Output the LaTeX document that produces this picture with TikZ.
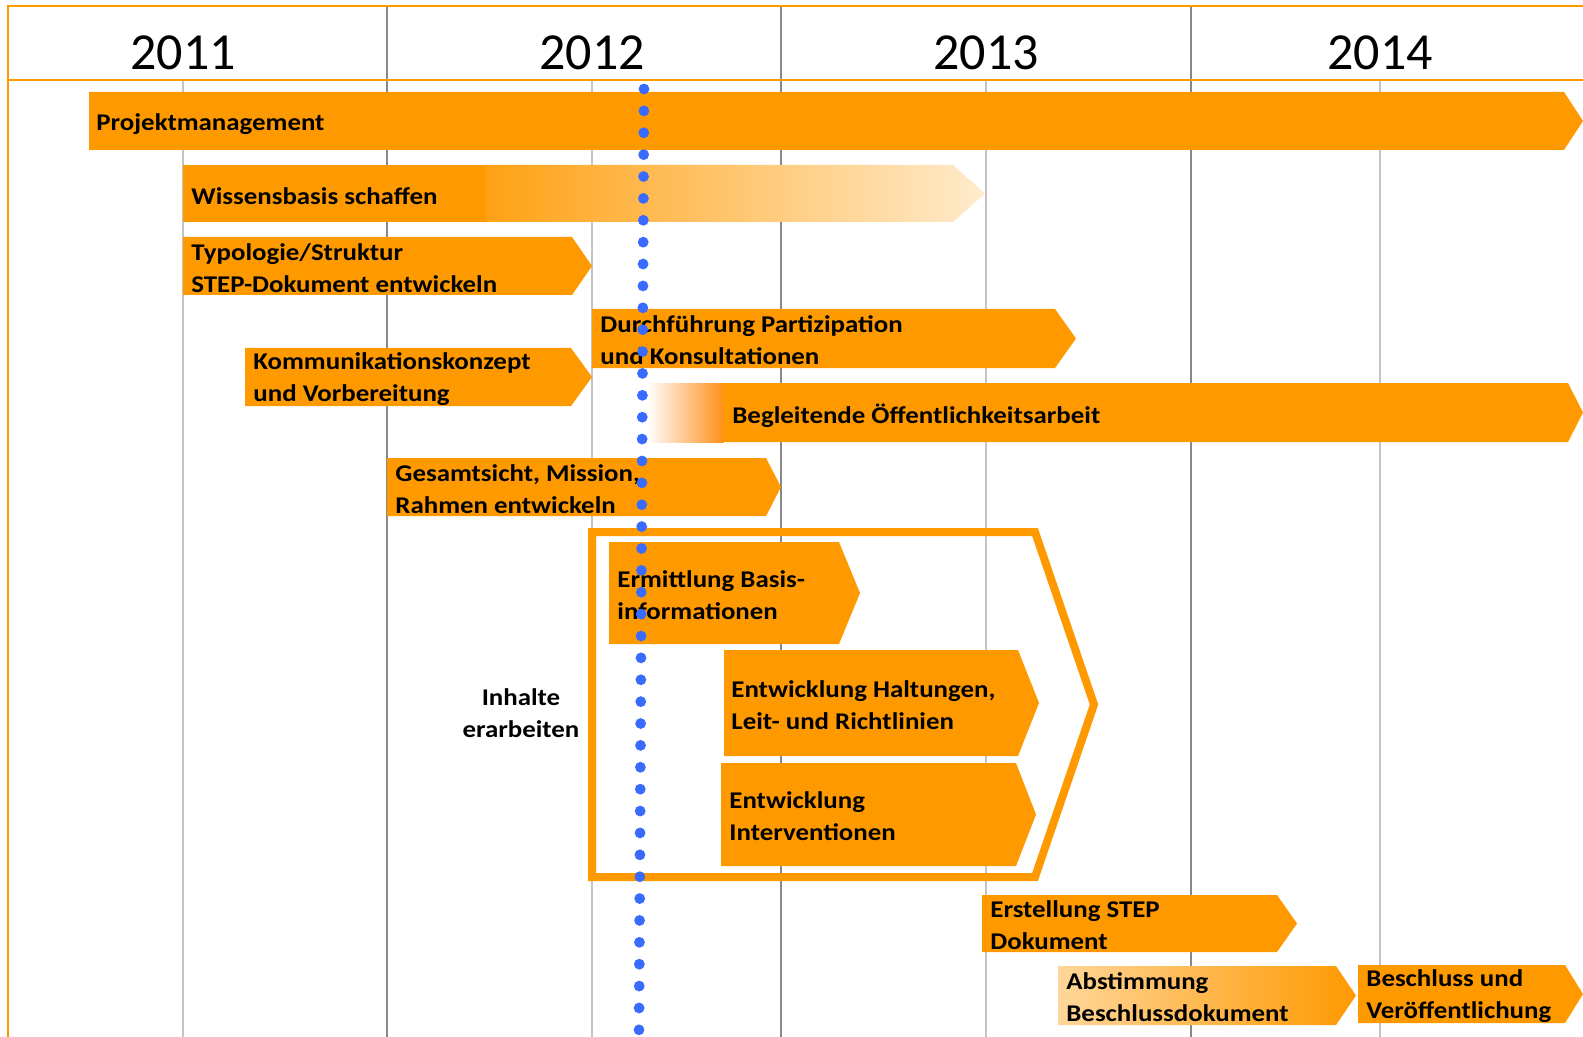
\documentclass[tikz,border=0pt]{standalone}
\usepackage{fontspec}
\setmainfont{Carlito}
\newfontfamily\barfont[FakeStretch=1.12]{Carlito}
\definecolor{barorange}{HTML}{FF9900}
\definecolor{lightpeach}{HTML}{FFEBCC}
\definecolor{abstlight}{HTML}{FFD699}
\definecolor{dotblue}{HTML}{3A6BFF}
\definecolor{yeargray}{HTML}{888888}
\definecolor{halfgray}{HTML}{C4C4C4}
\newcommand{\chevpath}[5]{(#1,#4) -- (#2,#4) -- (#3,{(#4+#5)/2}) -- (#2,#5) -- (#1,#5) -- cycle}
\tikzset{
  bartext/.style={anchor=west, align=left, inner sep=0pt, yshift=-1pt, font=\barfont\bfseries\fontsize{12}{16}\selectfont},
  yeartext/.style={inner sep=0pt, font=\fontsize{26}{30}\selectfont},
  framel/.style={draw=barorange, line width=1.3pt},
  yearline/.style={draw=yeargray, line width=1pt},
  halfline/.style={draw=halfgray, line width=1pt},
  barfill/.style={fill=barorange},
}
\begin{document}
\begin{tikzpicture}[x=0.5pt, y=-0.5pt]
\useasboundingbox (0,0) rectangle (1583,1037);
\fill[white] (0,0) rectangle (1583,1037);
% grid
\foreach \xx in {183,592,986,1380} \draw[halfline] (\xx,80) -- (\xx,1037);
\foreach \xx in {387,781,1191} \draw[yearline] (\xx,6) -- (\xx,1037);
\draw[framel] (8,1037) -- (8,6) -- (1583,6);
\draw[framel] (8,80) -- (1583,80);
% years
\node[yeartext] (y2011) at (183,53) {2011};
\node[yeartext] (y2012) at (592,53) {2012};
\node[yeartext] (y2013) at (986,53) {2013};
\node[yeartext] (y2014) at (1380,53) {2014};
% bars
\fill[barfill] \chevpath{89}{1564}{1583}{92}{150};
\node[bartext] (pm) at (96,122) {Projektmanagement};

\fill[barfill] (183,165) rectangle (487,222);
\shade[left color=barorange!92!white, right color=lightpeach] \chevpath{486}{953}{985}{165}{222};
\node[bartext] (wb) at (191,194.5) {Wissensbasis schaffen};

\fill[barfill] \chevpath{183}{572}{592}{237}{295};
\node[bartext] (typ) at (191,266) {Typologie/Struktur\\STEP-Dokument entwickeln};

\fill[barfill] \chevpath{592}{1055}{1076}{309}{368};
\node[bartext] (dp) at (600,338.5) {Durchführung Partizipation\\und Konsultationen};

\fill[barfill] \chevpath{245}{571}{592}{348}{406};
\node[bartext] (kk) at (253,377) {Kommunikationskonzept\\und Vorbereitung};

\shade[left color=white, right color=barorange!85!red!90!white] (647,383) rectangle (724,442);
\fill[barfill] \chevpath{723}{1568}{1583}{383}{442};
\node[bartext] (boe) at (732,413.5) {Begleitende Öffentlichkeitsarbeit};

\fill[barfill] \chevpath{387}{766}{781}{458}{516};
\node[bartext] (gm) at (395,487) {Gesamtsicht, Mission,\\Rahmen entwickeln};

% Inhalte erarbeiten group
\draw[draw=barorange, line width=4pt, line join=miter] (592,532) -- (1035,532) -- (1094,704.5) -- (1035,877) -- (592,877) -- cycle;
\node[bartext, anchor=center, align=center] (ie) at (521,711) {Inhalte\\erarbeiten};

\fill[barfill] \chevpath{609}{839}{860}{542}{644};
\node[bartext] (eb) at (617,593) {Ermittlung Basis-\\informationen};

\fill[barfill] \chevpath{724}{1018}{1039}{650}{756};
\node[bartext] (eh) at (731,703) {Entwicklung Haltungen,\\Leit- und Richtlinien};

\fill[barfill] \chevpath{721}{1016}{1036}{763}{866};
\node[bartext] (ei) at (729,814.5) {Entwicklung\\Interventionen};

\fill[barfill] \chevpath{982}{1277}{1297}{895}{952};
\node[bartext] (es) at (990,923.5) {Erstellung STEP\\Dokument};

\shade[left color=abstlight, right color=barorange] \chevpath{1058}{1336}{1356}{966}{1025};
\node[bartext] (ab) at (1066,995.5) {Abstimmung\\Beschlussdokument};

\fill[barfill] \chevpath{1358}{1565}{1583}{965}{1023};
\node[bartext] (bv) at (1366,994) {Beschluss und\\Veröffentlichung};

% today line
\foreach \i in {0,...,43} \fill[dotblue] ({644-5*\i/43},{89+21.88*\i}) circle (2.7pt);
\end{tikzpicture}
\end{document}
